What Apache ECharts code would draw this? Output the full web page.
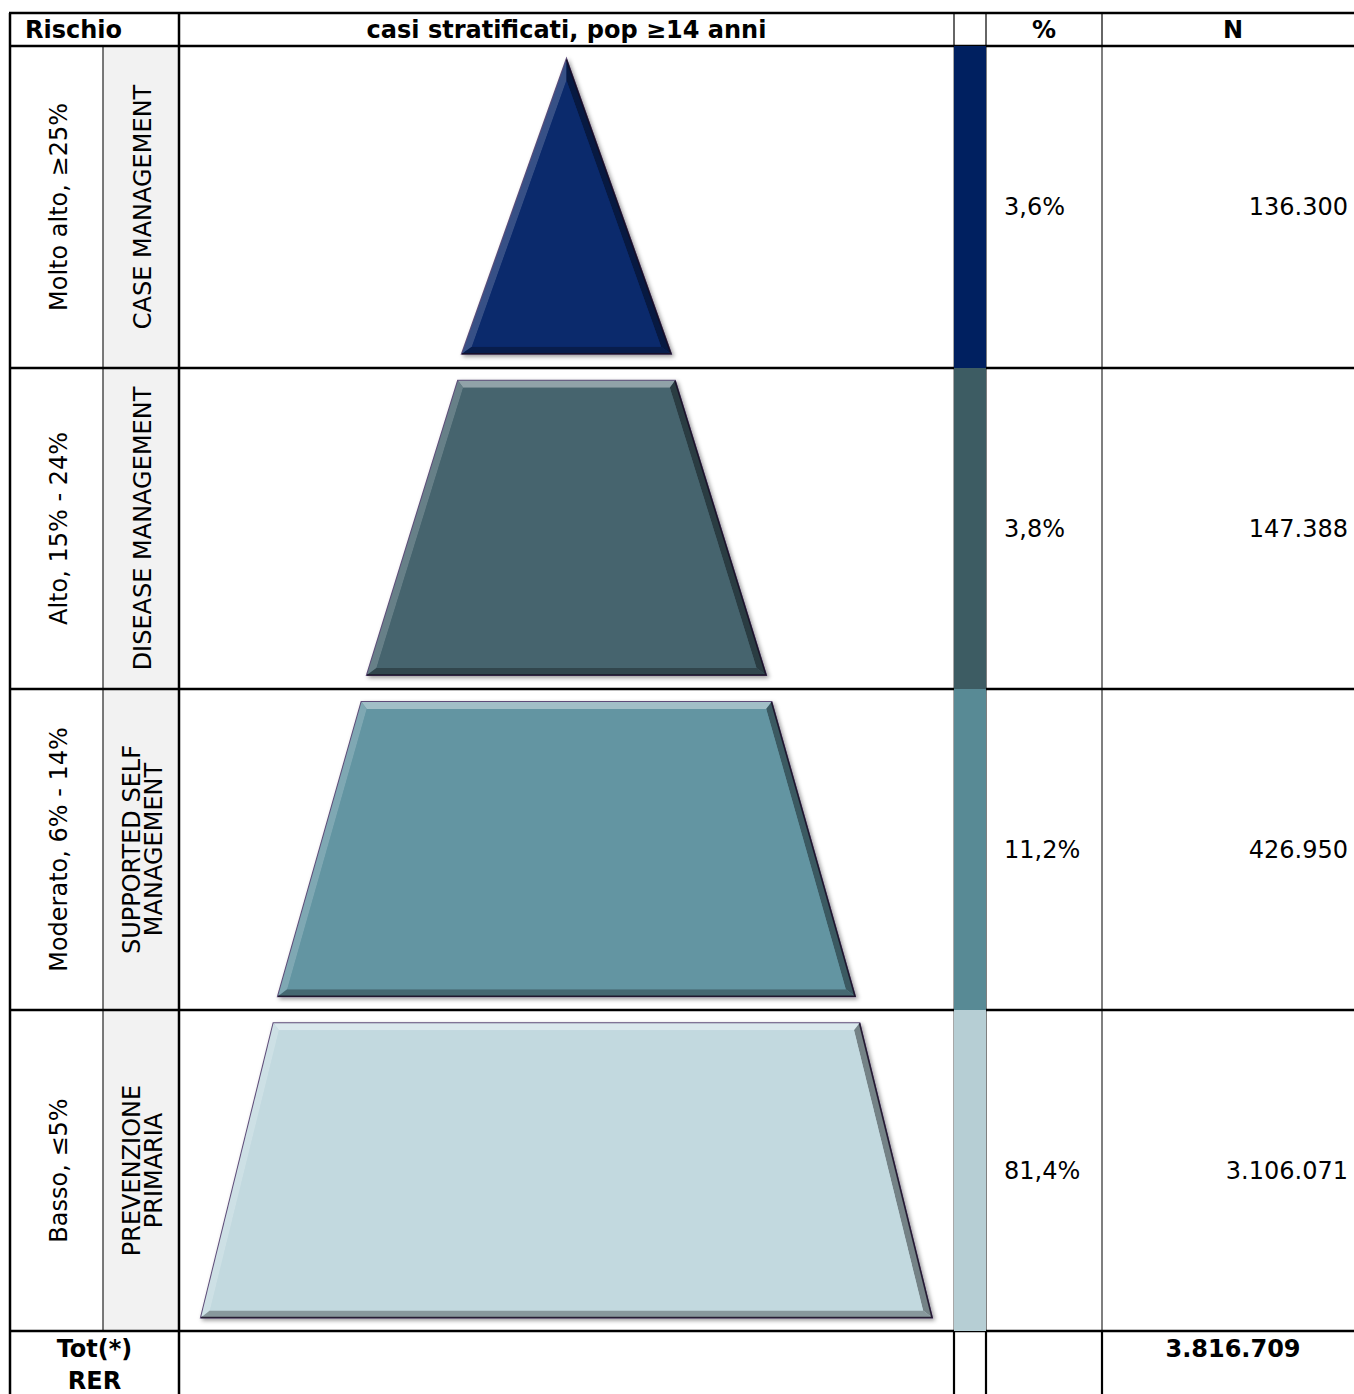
<!DOCTYPE html>
<html>
<head>
<meta charset="utf-8">
<script src="https://cdn.jsdelivr.net/npm/echarts@6/dist/echarts.min.js"></script>
<style>
  html, body { margin: 0; padding: 0; background: #fff; }
  #chart { width: 1354px; height: 1394px; }
</style>
</head>
<body>
<div id="chart"></div>
<script>
// dati della tabella
const rischio     = ['Molto alto, ≥25%', 'Alto, 15% - 24%', 'Moderato, 6% - 14%', 'Basso, ≤5%']
const gestione    = ['CASE MANAGEMENT', 'DISEASE MANAGEMENT', 'SUPPORTED SELF\nMANAGEMENT', 'PREVENZIONE\nPRIMARIA']
const percentuali = ['3,6%', '3,8%', '11,2%', '81,4%']
const numeri      = ['136.300', '147.388', '426.950', '3.106.071']
const totale      = '3.816.709'
const intestazioni = ['Rischio', 'casi stratificati, pop ≥14 anni', '%', 'N']
const totaleLabel = 'Tot(*)\nRER'
// larghezze della piramide (lato superiore / inferiore di ogni livello)
const larghezzaSup = [0, 217, 410, 586]
const larghezzaInf = [209, 399, 577, 731]
const coloriLivello  = ['#0b2a6c', '#46646e', '#6395a2', '#c2d9df']
const coloriStriscia = ['#002060', '#3d5c63', '#588a95', '#b6ced4']

const FONT = '"DejaVu Sans", Verdana, sans-serif'

// geometria tabella
const X = { left: 10, sub: 103, col: 179, strip: 954, pct: 986, n: 1102, right: 1354 }
const Y = { top: 13, head: 46, rows: [46, 368, 689, 1010, 1331], bottom: 1394 }

const chart = echarts.init(document.getElementById('chart'), null, { renderer: 'svg' })

function hline(y, x1, x2, w, c) {
  return { type: 'line', silent: true, shape: { x1, y1: y, x2, y2: y }, style: { stroke: c || '#000', lineWidth: w || 2.5 } }
}
function vline(x, y1, y2, w, c) {
  return { type: 'line', silent: true, shape: { x1: x, y1, x2: x, y2 }, style: { stroke: c || '#000', lineWidth: w || 2 } }
}
function txt(x, y, text, o = {}) {
  return {
    type: 'text', silent: true, x, y, rotation: o.rotation || 0, z: 10,
    style: {
      text, fill: '#000', font: `${ o.bold ? 'bold ' : '' }${ o.size || 24 }px ${ FONT }`,
      align: o.align || 'center', verticalAlign: o.vAlign || 'middle', lineHeight: o.lineHeight,
    }
  }
}
// schiarisce (k > 0) o scurisce (k < 0) un colore
function shade(c, k) {
  const a = echarts.color.parse(c)
  const f = v => Math.round(k > 0 ? v + (255 - v) * k : v * (1 + k))
  return `rgb(${ f(a[0]) },${ f(a[1]) },${ f(a[2]) })`
}

const graphic = []
// sfondo colonna grigia
graphic.push({ type: 'rect', silent: true, z: 0, shape: { x: X.sub, y: Y.head, width: X.col - X.sub, height: Y.rows[4] - Y.head }, style: { fill: '#f2f2f2' } })
// strisce colorate
coloriStriscia.forEach((c, i) => graphic.push({
  type: 'rect', silent: true, z: 1,
  shape: { x: X.strip, y: Y.rows[i], width: X.pct - X.strip, height: Y.rows[i + 1] - Y.rows[i] },
  style: { fill: c }
}))
// linee verticali
graphic.push(vline(X.left, Y.top, Y.bottom, 2.5))
graphic.push(vline(X.col, Y.top, Y.bottom, 2.5))
graphic.push(vline(X.sub, Y.head, Y.rows[4], 1.2, '#222'))
;[X.strip, X.pct, X.n].forEach(x => {
  graphic.push(vline(x, Y.top, Y.head, 1.5, '#333'))
  graphic.push(vline(x, Y.head, Y.rows[4], 1.5, x === X.strip ? '#8a8a8a' : '#555'))
  graphic.push(vline(x, Y.rows[4], Y.bottom, 2.2, '#000'))
})
// linee orizzontali
graphic.push(hline(Y.top, X.left - 1, X.right))
Y.rows.forEach(y => graphic.push(hline(y, X.left - 1, X.right)))

// intestazioni
graphic.push(txt(25, 30, intestazioni[0], { bold: true, align: 'left' }))
graphic.push(txt((X.col + X.strip) / 2, 30, intestazioni[1], { bold: true }))
graphic.push(txt((X.pct + X.n) / 2, 30, intestazioni[2], { bold: true }))
graphic.push(txt(1233, 30, intestazioni[3], { bold: true }))

// righe
rischio.forEach((r, i) => {
  const yc = (Y.rows[i] + Y.rows[i + 1]) / 2
  graphic.push(txt((X.left + X.sub) / 2 + 2, yc, r, { rotation: Math.PI / 2 }))
  graphic.push(txt((X.sub + X.col) / 2 + 2, yc, gestione[i], { rotation: Math.PI / 2, lineHeight: 22 }))
  graphic.push(txt(1004, yc, percentuali[i], { align: 'left' }))
  graphic.push(txt(1348, yc, numeri[i], { align: 'right' }))
})

// totale
graphic.push(txt((X.left + X.col) / 2, 1365, totaleLabel, { bold: true, lineHeight: 32 }))
graphic.push(txt(1233, 1349, totale, { bold: true }))

function renderLivello(params, api) {
  const i = api.value(0), sup = api.value(1), inf = api.value(2)
  const pad = 0.042
  const [xc, yt] = api.coord([0, i + pad])
  const yb = api.coord([0, i + 1 - pad])[1]
  const hs = api.size([sup / 2, 0])[0], hi = api.size([inf / 2, 0])[0]
  const o = [[xc - hs, yt], [xc + hs, yt], [xc + hi, yb], [xc - hi, yb]]

  // poligono interno per l'effetto smussato
  const d = 7
  const s = (hi - hs) / (yb - yt)
  const off = d * Math.sqrt(1 + s * s)
  let yi = yt + d
  let hsi = hs + s * d - off
  if (hsi < 0) { yi = yt + off / s; hsi = 0 }
  const ybi = yb - d
  const hii = hi - s * d - off
  const n = [[xc - hsi, yi], [xc + hsi, yi], [xc + hii, ybi], [xc - hii, ybi]]

  const col = coloriLivello[i]
  const band = (pts, fill) => ({ type: 'polygon', shape: { points: pts }, style: { fill } })
  return {
    type: 'group',
    children: [{
      type: 'polygon',
      shape: { points: o },
      style: {
        fill: col, stroke: '#5d4c78', lineWidth: 2,
        shadowBlur: 4, shadowOffsetX: 2, shadowOffsetY: 2, shadowColor: 'rgba(0,0,0,0.4)',
      }
    },
    band([o[0], o[1], n[1], n[0]], shade(col, 0.4)),
    band([o[3], o[0], n[0], n[3]], shade(col, 0.18)),
    band([o[1], o[2], n[2], n[1]], shade(col, -0.4)),
    band([o[2], o[3], n[3], n[2]], shade(col, -0.3)),
    band(n, col),
    {
      type: 'polyline',
      shape: { points: [o[1], o[2], o[3]] },
      style: { stroke: 'rgba(20,10,30,0.8)', lineWidth: 1.5, fill: null }
    }]
  }
}

const option = {
  animation: false,
  graphic,
  grid: { left: X.col, width: X.strip - X.col, top: Y.head, height: Y.rows[4] - Y.head, show: false },
  xAxis: { type: 'value', min: -387.5, max: 387.5, show: false },
  yAxis: { type: 'value', min: 0, max: 4, inverse: true, show: false },
  series: [{
    type: 'custom',
    renderItem: renderLivello,
    data: larghezzaSup.map((s, i) => [i, s, larghezzaInf[i]]),
    silent: true,
  }],
}

chart.setOption(option)
</script>
</body>
</html>
